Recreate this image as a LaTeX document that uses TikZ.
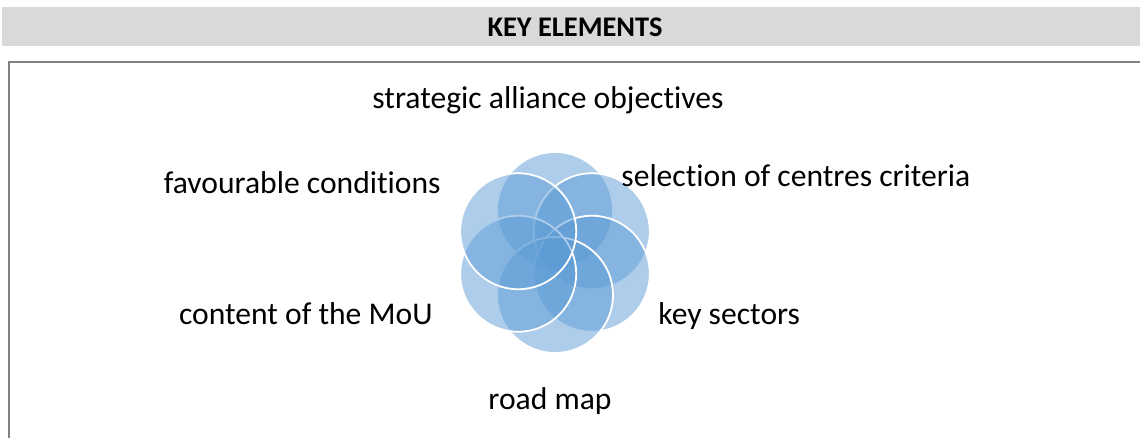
\documentclass[tikz,border=0pt]{standalone}
\usepackage{fontspec}
\setmainfont{Carlito}[Ligatures=NoCommon]
\usetikzlibrary{calc,positioning}
\definecolor{petalblue}{RGB}{91,155,213}
\definecolor{bandgray}{RGB}{217,217,217}
\definecolor{framegray}{RGB}{128,128,128}

\begin{document}
\begin{tikzpicture}[x=0.5pt, y=-0.5pt,
        petal/.style = {circle, minimum size=58pt, inner sep=0pt, fill=petalblue, fill opacity=0.5, draw=white, draw opacity=1, line width=0.9pt},
        lbl/.style = {font=\fontsize{15.8}{19}\selectfont, inner sep=0pt}]
        \useasboundingbox (0,0) rectangle (1140,438);
        \clip (0,0) rectangle (1140,438);
        \fill[bandgray] (2,7) rectangle (1140,46);
        \node[font=\bfseries\fontsize{14.2}{17}\selectfont, inner sep=0pt] (title) at (575,27) {KEY ELEMENTS};
        \draw[framegray, line width=1pt] (9,62) rectangle (1160,470);
        
        \coordinate (hub) at (555,252.5);
        \foreach \a [count=\i] in {-90,-30,30,90,150,210}
            \node[petal] (petal \i) at ($(hub)+(\a:42.5)$) {};
        
        \node[lbl, anchor=base]      (objectives) at (548,109)  {strategic alliance objectives};
        \node[lbl, anchor=base west] (criteria)   at (621,187)  {selection of centres criteria};
        \node[lbl, anchor=base west] (sectors)    at (658,324)  {key sectors};
        \node[lbl, anchor=base]      (roadmap)    at (550,409)  {road map};
        \node[lbl, anchor=base east] (mou)        at (433,324)  {content of the MoU};
        \node[lbl, anchor=base east] (conditions) at (441,194)  {favourable conditions};
\end{tikzpicture}
\end{document}
